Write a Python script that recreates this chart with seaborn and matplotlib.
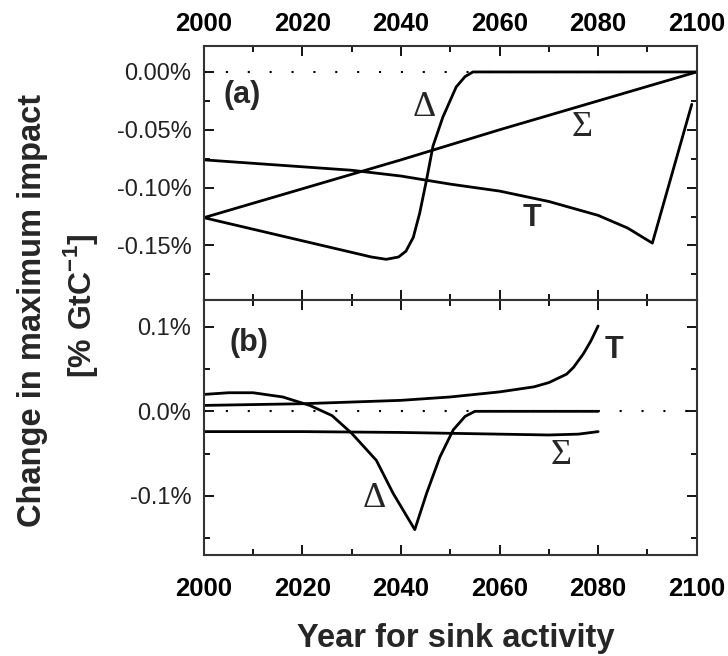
import pandas as pd
import matplotlib
matplotlib.use("Agg")
import matplotlib.pyplot as plt
import seaborn as sns
from matplotlib.ticker import MultipleLocator, FuncFormatter

# --- Panel (a) data (values in %) ---
a_sigma_year = [2000, 2020, 2040, 2060, 2080, 2100]
a_sigma_val = [-0.126, -0.101, -0.076, -0.050, -0.025, 0.0]

a_t_year = [2000, 2010, 2020, 2030, 2040, 2050, 2060, 2070, 2080, 2086, 2091, 2099]
a_t_val = [-0.076, -0.079, -0.082, -0.085, -0.090, -0.097, -0.103, -0.112, -0.124, -0.135, -0.148, -0.028]

a_delta_year = [2000, 2010, 2020, 2030, 2034, 2037, 2039.5, 2041, 2042.5, 2043.8, 2045.2,
                2046.5, 2048.5, 2051.2, 2053, 2054.6, 2100]
a_delta_val = [-0.126, -0.136, -0.146, -0.156, -0.160, -0.162, -0.160, -0.155, -0.143, -0.122, -0.093,
               -0.064, -0.039, -0.013, -0.004, 0.0, 0.0]

# --- Panel (b) data (values in %) ---
b_t_year = [2000, 2020, 2040, 2050, 2060, 2067, 2070, 2073.6, 2075, 2077, 2078.5, 2080]
b_t_val = [0.007, 0.009, 0.013, 0.017, 0.023, 0.029, 0.034, 0.044, 0.052, 0.068, 0.083, 0.101]

b_delta_year = [2000, 2005, 2010, 2016, 2021.5, 2026, 2030, 2035, 2038.4, 2042.8,
                2045.2, 2047.9, 2050.6, 2053, 2055, 2080]
b_delta_val = [0.020, 0.022, 0.022, 0.017, 0.007, -0.005, -0.026, -0.058, -0.097, -0.140,
               -0.097, -0.054, -0.022, -0.006, 0.0, 0.0]

b_sigma_year = [2000, 2020, 2040, 2060, 2070, 2076, 2080]
b_sigma_val = [-0.024, -0.024, -0.025, -0.027, -0.028, -0.027, -0.024]

sns.set_style("ticks")
plt.rcParams['font.family'] = ['Liberation Sans', 'DejaVu Sans']

fig = plt.figure(figsize=(7.28, 6.56), dpi=100)
ax_a = fig.add_axes([0.280, 0.543, 0.677, 0.387])
ax_b = fig.add_axes([0.280, 0.154, 0.677, 0.389])


def draw(ax, year, val):
    d = pd.DataFrame({'year': year, 'val': val})
    sns.lineplot(data=d, x='year', y='val', ax=ax, color='black', linewidth=2.0,
                 estimator=None, sort=False)


for ax in (ax_a, ax_b):
    ax.axhline(0, color='black', linestyle=(0, (1, 9.5)), linewidth=1.5, zorder=1)

draw(ax_a, a_sigma_year, a_sigma_val)
draw(ax_a, a_t_year, a_t_val)
draw(ax_a, a_delta_year, a_delta_val)
draw(ax_b, b_t_year, b_t_val)
draw(ax_b, b_delta_year, b_delta_val)
draw(ax_b, b_sigma_year, b_sigma_val)

ax_a.set_ylim(-0.197, 0.0225)
ax_b.set_ylim(-0.17, 0.132)
ax_a.yaxis.set_major_locator(MultipleLocator(0.05))
ax_a.yaxis.set_minor_locator(MultipleLocator(0.025))
ax_a.yaxis.set_major_formatter(FuncFormatter(lambda v, p: f"{v:.2f}%"))
ax_b.yaxis.set_major_locator(MultipleLocator(0.1))
ax_b.yaxis.set_minor_locator(MultipleLocator(0.05))
ax_b.yaxis.set_major_formatter(FuncFormatter(lambda v, p: f"{v:.1f}%"))

for ax in (ax_a, ax_b):
    ax.set_xlim(2000, 2100)
    ax.xaxis.set_major_locator(MultipleLocator(20))
    ax.xaxis.set_minor_locator(MultipleLocator(10))
    ax.set_xlabel("")
    ax.set_ylabel("")
    ax.tick_params(which='both', direction='in', top=True, right=True, left=True, bottom=True,
                   width=1.3, colors='black')
    ax.tick_params(which='major', length=7)
    ax.tick_params(which='minor', length=4)
    ax.tick_params(axis='y', labelsize=17, pad=9, labelcolor='#222222')
    ax.tick_params(axis='x', labelsize=18.5)
    for s in ax.spines.values():
        s.set_linewidth(1.5)
        s.set_color('#333333')

ax_a.tick_params(axis='x', labeltop=True, labelbottom=False, pad=7)
ax_b.tick_params(axis='x', labeltop=False, labelbottom=True, pad=15.5)
for lab in ax_a.get_xticklabels() + ax_b.get_xticklabels():
    lab.set_fontweight('bold')

# annotations
serif = ['Liberation Serif', 'DejaVu Serif']
ax_a.text(2003.9, -0.0198, "(a)", fontsize=22, fontweight='bold', ha='left', va='center')
ax_a.text(2044.8, -0.031, "Δ", family=serif, fontsize=26, ha='center', va='center')
ax_a.text(2076.7, -0.048, "Σ", family=serif, fontsize=26, ha='center', va='center')
ax_a.text(2066.5, -0.126, "T", fontsize=22, fontweight='bold', ha='center', va='center')
ax_b.text(2005.3, 0.081, "(b)", fontsize=22, fontweight='bold', ha='left', va='center')
ax_b.text(2083.2, 0.072, "T", fontsize=22, fontweight='bold', ha='center', va='center')
ax_b.text(2072.4, -0.052, "Σ", family=serif, fontsize=26, ha='center', va='center')
ax_b.text(2034.5, -0.103, "Δ", family=serif, fontsize=26, ha='center', va='center')

fig.text(0.044, 0.527, "Change in maximum impact", rotation=90,
         ha='center', va='center', fontsize=23.5, fontweight='bold')
fig.text(0.111, 0.534, "[% GtC$^{\\mathregular{-1}}$]", rotation=90,
         ha='center', va='center', fontsize=23, fontweight='bold')
fig.text(456 / 728, 1 - 647 / 656, "Year for sink activity", ha='center', va='baseline',
         fontsize=23.5, fontweight='bold')

fig.savefig("out.png", dpi=100)
